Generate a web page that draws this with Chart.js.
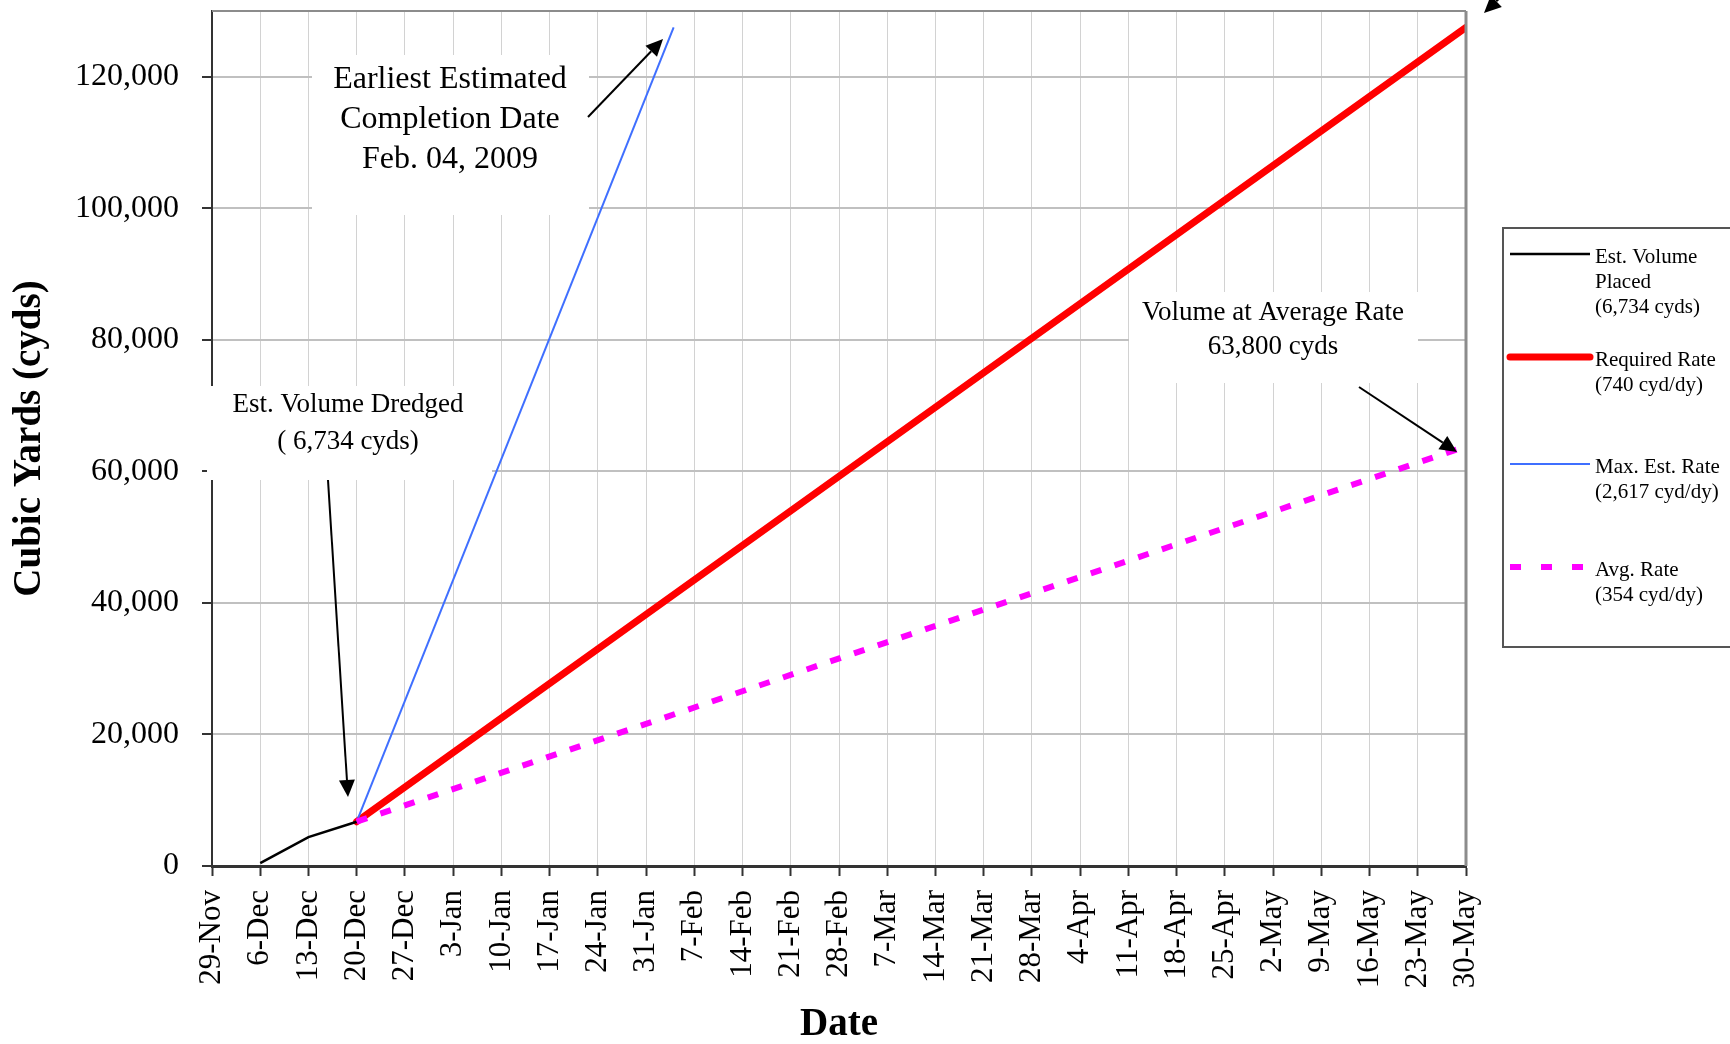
<!DOCTYPE html>
<html>
<head>
<meta charset="utf-8">
<script src="https://cdn.jsdelivr.net/npm/chart.js@4.4.1/dist/chart.umd.min.js"></script>
<style>
  html, body { margin: 0; padding: 0; background: #fff; }
  #chart { display: block; }
</style>
</head>
<body>
<canvas id="chart" width="1730" height="1044"></canvas>
<script>
// --- data (x = days after 29-Nov-2008) ---
const weekLabels = ['29-Nov', '6-Dec', '13-Dec', '20-Dec', '27-Dec', '3-Jan', '10-Jan', '17-Jan',
  '24-Jan', '31-Jan', '7-Feb', '14-Feb', '21-Feb', '28-Feb', '7-Mar', '14-Mar', '21-Mar',
  '28-Mar', '4-Apr', '11-Apr', '18-Apr', '25-Apr', '2-May', '9-May', '16-May', '23-May', '30-May'];

const placedDays = [7, 14, 21];
const placedVals = [450, 4400, 6734];

const requiredDays = [21, 182];
const requiredVals = [6734, 127500];

const maxRateDays = [21, 67];
const maxRateVals = [6734, 127500];

const avgDays = [21, 182];
const avgVals = [6734, 63800];

const yTickValues = [0, 20000, 40000, 60000, 80000, 100000, 120000];

const legendText = [
  ['Est. Volume', 'Placed', '(6,734 cyds)'],
  ['Required Rate', '(740 cyd/dy)'],
  ['Max. Est. Rate', '(2,617 cyd/dy)'],
  ['Avg. Rate', '(354 cyd/dy)']
];

const SERIF = '"Liberation Serif", "Times New Roman", serif';

const toXY = (xs, ys) => xs.map((x, i) => ({ x: x, y: ys[i] }));

// --- annotation boxes, arrows, frame and legend ---
const notes = [
  { box: [312, 55, 589, 215], cx: 450, lines: ['Earliest Estimated', 'Completion Date', 'Feb. 04, 2009'], ys: [80, 120, 160], size: 32 },
  { box: [207, 386, 492, 480], cx: 348, lines: ['Est. Volume Dredged', '( 6,734 cyds)'], ys: [405, 442], size: 27 },
  { box: [1129, 292, 1418, 383], cx: 1273, lines: ['Volume at Average Rate', '63,800 cyds'], ys: [313, 347], size: 27 }
];
const arrows = [
  [588, 117, 663, 39],
  [328, 480, 348, 797],
  [1359, 387, 1457, 452],
  [1506, -8, 1484, 13]
];

function drawArrow(ctx, x1, y1, x2, y2) {
  const ang = Math.atan2(y2 - y1, x2 - x1);
  const len = 17, half = 8;
  const bx = x2 - len * Math.cos(ang), by = y2 - len * Math.sin(ang);
  ctx.beginPath();
  ctx.moveTo(x1, y1);
  ctx.lineTo(bx, by);
  ctx.strokeStyle = '#000';
  ctx.lineWidth = 2;
  ctx.stroke();
  ctx.beginPath();
  ctx.moveTo(x2, y2);
  ctx.lineTo(bx + half * Math.sin(ang), by - half * Math.cos(ang));
  ctx.lineTo(bx - half * Math.sin(ang), by + half * Math.cos(ang));
  ctx.closePath();
  ctx.fillStyle = '#000';
  ctx.fill();
}

const overlayPlugin = {
  id: 'overlay',
  beforeDatasetsDraw(chart) {
    const ctx = chart.ctx;
    ctx.save();
    notes.forEach(n => {
      ctx.fillStyle = '#fff';
      ctx.fillRect(n.box[0], n.box[1], n.box[2] - n.box[0], n.box[3] - n.box[1]);
      ctx.fillStyle = '#000';
      ctx.font = n.size + 'px ' + SERIF;
      ctx.textAlign = 'center';
      ctx.textBaseline = 'middle';
      n.lines.forEach((t, i) => ctx.fillText(t, n.cx, n.ys[i]));
    });
    ctx.restore();
  },
  afterDraw(chart) {
    const ctx = chart.ctx;
    const a = chart.chartArea;
    ctx.save();
    // top and right frame
    ctx.strokeStyle = '#8c8c8c';
    ctx.lineWidth = 2;
    ctx.beginPath();
    ctx.moveTo(a.left, a.top);
    ctx.lineTo(a.right, a.top);
    ctx.stroke();
    ctx.lineWidth = 3;
    ctx.beginPath();
    ctx.moveTo(a.right, a.top);
    ctx.lineTo(a.right, a.bottom);
    ctx.stroke();

    arrows.forEach(p => drawArrow(ctx, p[0], p[1], p[2], p[3]));

    // legend box
    ctx.strokeStyle = '#555';
    ctx.lineWidth = 2;
    ctx.strokeRect(1503, 228, 260, 419);
    const sampleY = [254, 357, 464, 567];
    ctx.font = '21px ' + SERIF;
    ctx.textAlign = 'left';
    ctx.textBaseline = 'middle';
    chart.data.datasets.forEach((ds, i) => {
      ctx.beginPath();
      ctx.moveTo(1510, sampleY[i]);
      ctx.lineTo(1590, sampleY[i]);
      ctx.strokeStyle = ds.borderColor;
      ctx.lineWidth = ds.borderWidth;
      ctx.lineCap = ds.borderCapStyle || 'butt';
      ctx.setLineDash(ds.borderDash ? [11, 20] : []);
      ctx.stroke();
      ctx.setLineDash([]);
      ctx.fillStyle = '#000';
      legendText[i].forEach((t, j) => ctx.fillText(t, 1595, sampleY[i] + 3 + j * 25));
    });
    ctx.restore();
  }
};

const chart = new Chart(document.getElementById('chart'), {
  type: 'line',
  data: {
    datasets: [
      { label: 'Est. Volume Placed', data: toXY(placedDays, placedVals), borderColor: '#000000', borderWidth: 2.5, order: 1 },
      { label: 'Required Rate', data: toXY(requiredDays, requiredVals), borderColor: '#ff0000', borderWidth: 7, borderCapStyle: 'round', order: 3 },
      { label: 'Max. Est. Rate', data: toXY(maxRateDays, maxRateVals), borderColor: '#3f6fff', borderWidth: 2, order: 2 },
      { label: 'Avg. Rate', data: toXY(avgDays, avgVals), borderColor: '#ff00ff', borderWidth: 6, borderDash: [11, 14], order: 0 }
    ]
  },
  options: {
    responsive: false,
    animation: false,
    devicePixelRatio: 1,
    layout: { padding: { top: 11, right: 264, left: 0, bottom: 0 } },
    elements: { point: { radius: 0 }, line: { tension: 0, fill: false } },
    plugins: { legend: { display: false }, tooltip: { enabled: false } },
    scales: {
      x: {
        type: 'linear',
        min: 0,
        max: 182,
        afterFit: s => { s.height = 178; },
        border: { color: '#333', width: 3 },
        grid: { color: '#d2d2d2', lineWidth: 1, tickColor: '#333', tickLength: 10, tickWidth: 2 },
        ticks: {
          stepSize: 7,
          autoSkip: false,
          maxRotation: 90,
          minRotation: 90,
          padding: 14,
          color: '#000',
          font: { family: SERIF, size: 31 },
          callback: v => weekLabels[Math.round(v / 7)]
        },
        title: {
          display: true,
          text: 'Date',
          color: '#000',
          font: { family: SERIF, size: 39, weight: 'bold', lineHeight: 1 },
          padding: { top: 0, bottom: 0 }
        }
      },
      y: {
        min: 0,
        max: 130000,
        afterFit: s => { s.width = 212; s.paddingTop = 0; s.paddingBottom = 0; },
        afterBuildTicks: s => { s.ticks = yTickValues.map(v => ({ value: v })); },
        border: { color: '#333', width: 2 },
        grid: { color: '#c0c0c0', lineWidth: 2, tickColor: '#333', tickLength: 10, tickWidth: 2 },
        ticks: {
          padding: 23,
          color: '#000',
          font: { family: SERIF, size: 32 },
          callback: v => v.toLocaleString('en-US')
        },
        title: {
          display: true,
          text: 'Cubic Yards (cyds)',
          color: '#000',
          font: { family: SERIF, size: 39, weight: 'bold', lineHeight: 1 },
          padding: { top: 10, bottom: 0 }
        }
      }
    }
  },
  plugins: [overlayPlugin]
});
</script>
</body>
</html>
